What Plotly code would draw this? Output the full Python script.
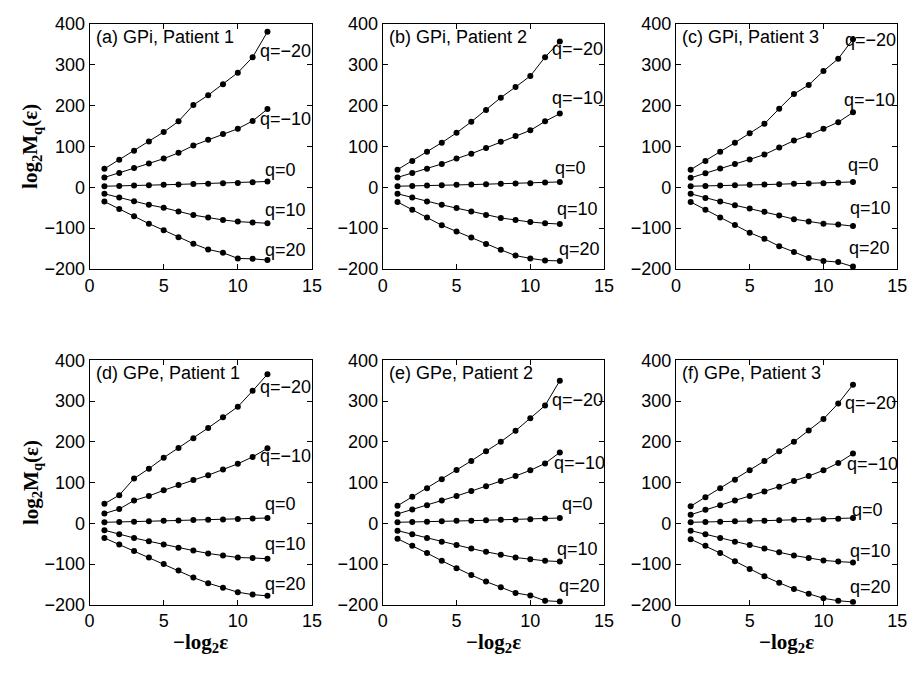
import plotly.graph_objects as go

# ---------------- data ----------------
x_vals = [1, 2, 3, 4, 5, 6, 7, 8, 9, 10, 11, 12]
q_labels = ["q=\u221220", "q=\u221210", "q=0", "q=10", "q=20"]
panel_titles = ["(a) GPi, Patient 1", "(b) GPi, Patient 2", "(c) GPi, Patient 3",
                "(d) GPe, Patient 1", "(e) GPe, Patient 2", "(f) GPe, Patient 3"]
x_ticks = [0, 5, 10, 15]
y_ticks = [-200, -100, 0, 100, 200, 300, 400]

# (a) GPi, Patient 1
a_qm20 = [45, 67, 89, 112, 135, 161, 201, 225, 252, 280, 318, 380]
a_qm10 = [24, 35, 47, 58, 70, 84, 102, 116, 130, 143, 162, 191]
a_q0 = [2.5, 3, 4, 5, 6, 7, 8, 8.5, 9.5, 10.5, 12, 14]
a_q10 = [-16, -25, -34, -43, -50, -59, -68, -74, -80, -84, -86, -88]
a_q20 = [-35, -53, -71, -89, -105, -122, -138, -152, -160, -174, -175, -178]

# (b) GPi, Patient 2
b_qm20 = [43, 64, 87, 109, 133, 160, 189, 219, 245, 272, 318, 356]
b_qm10 = [24, 35, 45, 57, 70, 82, 96, 111, 125, 139, 161, 180]
b_q0 = [2.5, 3, 4, 5, 6, 6.5, 7.5, 8.5, 9, 10, 11.5, 13]
b_q10 = [-16, -25, -35, -43, -51, -59, -68, -75, -80, -85, -88, -90]
b_q20 = [-36, -55, -74, -93, -108, -123, -139, -153, -167, -174, -179, -180]

# (c) GPi, Patient 3
c_qm20 = [43, 64, 87, 109, 132, 155, 192, 228, 250, 284, 314, 362]
c_qm10 = [23, 34, 46, 57, 68, 80, 97, 114, 127, 143, 159, 183]
c_q0 = [2.5, 3, 4, 5, 6, 6.5, 7.5, 8.5, 9, 10, 11, 13]
c_q10 = [-16, -26, -35, -44, -52, -60, -69, -78, -84, -89, -91, -95]
c_q20 = [-36, -55, -74, -92, -111, -126, -144, -158, -173, -180, -183, -194]

# (d) GPe, Patient 1
d_qm20 = [48, 69, 110, 134, 161, 185, 209, 234, 260, 286, 325, 366]
d_qm10 = [24, 35, 56, 67, 81, 94, 106, 118, 132, 146, 163, 184]
d_q0 = [2.5, 3, 4, 5, 6, 7, 8, 8.5, 9.5, 10.5, 12, 13]
d_q10 = [-17, -27, -36, -44, -52, -60, -67, -74, -79, -84, -85, -87]
d_q20 = [-36, -52, -68, -84, -100, -116, -133, -147, -158, -169, -175, -178]

# (e) GPe, Patient 2
e_qm20 = [43, 65, 86, 108, 131, 153, 177, 200, 227, 258, 289, 350]
e_qm10 = [23, 34, 44, 56, 67, 79, 91, 104, 116, 130, 147, 174]
e_q0 = [2.5, 3, 4, 5, 6, 6.5, 7.5, 8.5, 9, 10, 11.5, 13]
e_q10 = [-18, -27, -36, -45, -53, -62, -70, -77, -84, -88, -92, -94]
e_q20 = [-38, -55, -73, -92, -110, -127, -143, -157, -171, -177, -190, -192]

# (f) GPe, Patient 3
f_qm20 = [42, 64, 86, 107, 130, 153, 177, 200, 228, 256, 294, 340]
f_qm10 = [21, 33, 44, 56, 67, 78, 90, 104, 116, 130, 148, 171]
f_q0 = [2.5, 3, 4, 5, 6, 6.5, 7.5, 8.5, 9, 10, 11, 13]
f_q10 = [-18, -27, -36, -45, -53, -62, -71, -79, -85, -91, -94, -96]
f_q20 = [-39, -55, -73, -93, -112, -130, -146, -161, -173, -184, -190, -193]

panels = [
    [a_qm20, a_qm10, a_q0, a_q10, a_q20],
    [b_qm20, b_qm10, b_q0, b_q10, b_q20],
    [c_qm20, c_qm10, c_q0, c_q10, c_q20],
    [d_qm20, d_qm10, d_q0, d_q10, d_q20],
    [e_qm20, e_qm10, e_q0, e_q10, e_q20],
    [f_qm20, f_qm10, f_q0, f_q10, f_q20],
]

# label positions (data coordinates) for the q labels in each panel
label_pos = [
    [(13.2, 334), (13.2, 168), (12.9, 43), (13.2, -55), (13.2, -153)],
    [(13.2, 338), (13.2, 218), (12.7, 47), (13.2, -53), (13.3, -151)],
    [(13.2, 360), (13.1, 213), (12.7, 55), (13.2, -50), (13.1, -149)],
    [(13.2, 334), (13.2, 164), (12.9, 47), (13.2, -52), (13.2, -149)],
    [(13.2, 303), (13.3, 148), (13.2, 47), (13.2, -62), (13.3, -153)],
    [(13.2, 296), (13.3, 146), (13.0, 33), (13.2, -68), (13.2, -157)],
]

# ---------------- layout geometry ----------------
W, H = 922, 674
x_dom = [(86 / W, 312 / W), (384 / W, 609 / W), (682 / W, 907 / W)]
y_dom = [(1 - 267 / H, 1 - 14 / H), (1 - 613 / H, 1 - 361 / H)]

SANS = "Liberation Sans, Arial, Helvetica, sans-serif"
SERIF = "Liberation Serif, Times New Roman, serif"
FS = 18

fig = go.Figure()
annotations = []
layout_axes = {}

for i in range(6):
    row, col = divmod(i, 3)
    n = i + 1
    xa = "x" if n == 1 else f"x{n}"
    ya = "y" if n == 1 else f"y{n}"
    for ys in panels[i]:
        fig.add_trace(go.Scatter(
            x=x_vals, y=ys, xaxis=xa, yaxis=ya, mode="lines+markers",
            line=dict(color="black", width=1),
            marker=dict(color="black", size=6),
            showlegend=False, hoverinfo="skip"))
    axis_common = dict(
        showline=True, linecolor="black", linewidth=1, mirror="ticks",
        ticks="inside", ticklen=5, tickcolor="black", tickwidth=1,
        showgrid=False, zeroline=False,
        tickfont=dict(family=SANS, size=FS, color="black"),
    )
    layout_axes["xaxis" if n == 1 else f"xaxis{n}"] = dict(
        axis_common, domain=list(x_dom[col]), range=[0, 15],
        tickvals=x_ticks, anchor=ya)
    layout_axes["yaxis" if n == 1 else f"yaxis{n}"] = dict(
        axis_common, domain=list(y_dom[row]), range=[-200, 400],
        tickvals=y_ticks, anchor=xa)
    annotations.append(dict(
        x=0.3, y=368, xref=xa, yref=ya, text=panel_titles[i],
        showarrow=False, xanchor="left", yanchor="middle",
        font=dict(family=SANS, size=FS, color="black")))
    for (lx, ly), txt in zip(label_pos[i], q_labels):
        annotations.append(dict(
            x=lx, y=ly, xref=xa, yref=ya, text=txt, showarrow=False,
            xanchor="center", yanchor="middle",
            font=dict(family=SANS, size=FS, color="black")))

# axis titles
for row in range(2):
    yc = (y_dom[row][0] + y_dom[row][1]) / 2
    annotations.append(dict(
        x=27 / W, y=yc, xref="paper", yref="paper",
        text="<b>log<sub>2</sub>M<sub>q</sub>(\u03b5)</b>", textangle=-90,
        showarrow=False, xanchor="center", yanchor="middle",
        font=dict(family=SERIF, size=21, color="black")))
for col in range(3):
    xc = (x_dom[col][0] + x_dom[col][1]) / 2
    annotations.append(dict(
        x=xc, y=1 - 652 / H, xref="paper", yref="paper",
        text="<b>\u2212log<sub>2</sub>\u03b5</b>",
        showarrow=False, xanchor="center", yanchor="middle",
        font=dict(family=SERIF, size=21, color="black")))

fig.update_layout(
    width=W, height=H, margin=dict(l=0, r=0, t=0, b=0),
    paper_bgcolor="white", plot_bgcolor="white",
    annotations=annotations, **layout_axes)

fig.write_html("out.html")
